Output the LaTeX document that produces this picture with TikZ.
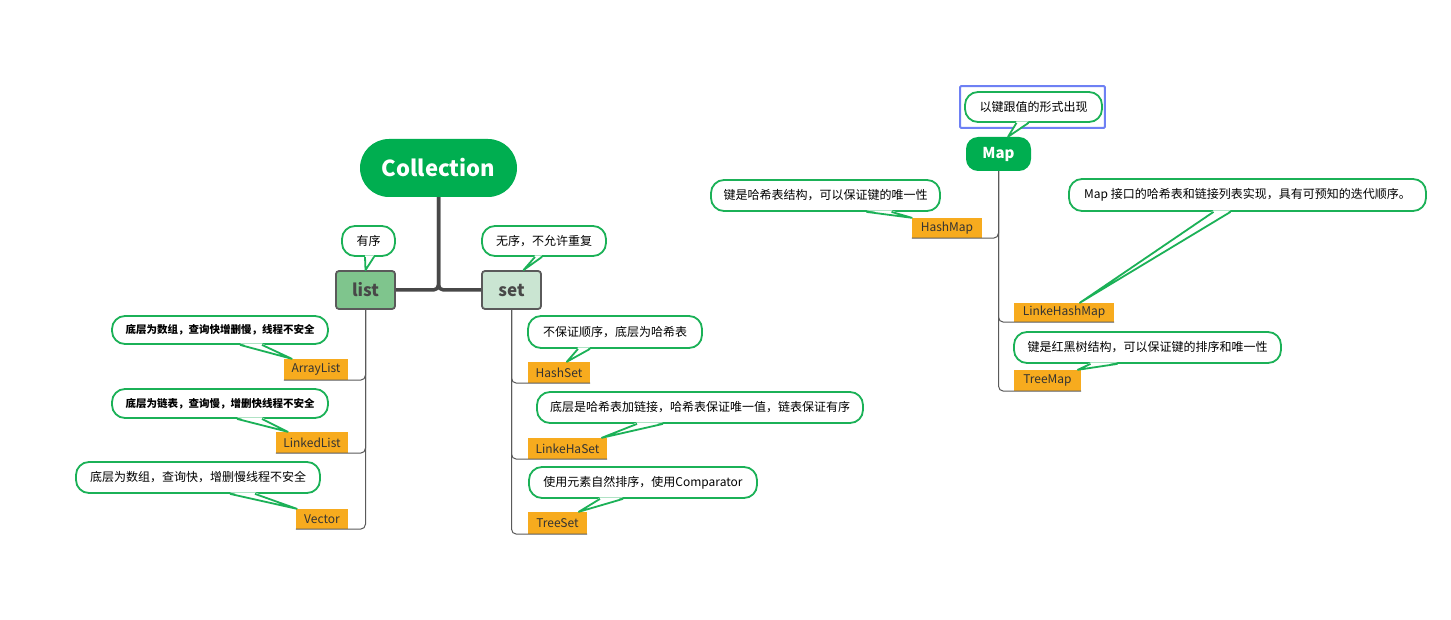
\documentclass[tikz,border=0pt]{standalone}
\usepackage{fontspec}
\setmainfont{Noto Sans CJK SC}
\definecolor{mmgreen}{HTML}{00AE50}
\definecolor{notegreen}{HTML}{1BB157}
\definecolor{tagorange}{HTML}{F7AB1E}
\definecolor{listfill}{HTML}{7FC58D}
\definecolor{setfill}{HTML}{CAE5D2}
\definecolor{linegray}{HTML}{484848}
\definecolor{selblue}{HTML}{6E80F4}
\begin{document}
\begin{tikzpicture}[x=1pt,y=-1pt,
  root/.style={fill=mmgreen,text=white,inner sep=0pt,font=\bfseries\fontsize{22}{26}\selectfont},
  kind/.style={draw=linegray!90,line width=1.8pt,rounded corners=3pt,inner sep=0pt,minimum width=59pt,minimum height=38pt,text=linegray,font=\bfseries\fontsize{17}{20}\selectfont},
  note/.style={draw=notegreen,line width=1.8pt,fill=white,rounded corners=13pt,inner sep=0pt,font=\fontsize{12}{14}\selectfont},
  tag/.style={fill=tagorange,inner sep=0pt,minimum height=21pt,text=black!80,font=\fontsize{12}{14}\selectfont},
  pointer/.style={draw=notegreen,line width=1.8pt,line join=round},
  trunk/.style={draw=linegray,line width=3.5pt,rounded corners=5pt},
  branch/.style={draw=linegray!90,line width=1pt,rounded corners=5pt}]
\useasboundingbox[fill=white] (0,0) rectangle (1451,620);

\node[root,rounded corners=29pt,minimum width=157pt,minimum height=58pt] (coll) at (438.5,168) {Collection};
\node[kind,fill=listfill] (list) at (365.5,290) {list};
\node[kind,fill=setfill] (set) at (511.5,290) {set};
\node[root,rounded corners=12pt,minimum width=65pt,minimum height=34pt,font=\bfseries\fontsize{15}{18}\selectfont] (map) at (998.5,154) {Map};

\node[tag,minimum width=64pt] (t3) at (316,369.5) {ArrayList};
\node[tag,minimum width=72pt] (t4) at (312,442.5) {LinkedList};
\node[tag,minimum width=52pt,minimum height=20pt] (t5) at (322,519) {Vector};
\node[tag,minimum width=62pt] (t6) at (559,372.5) {HashSet};
\node[tag,minimum width=79pt] (t7) at (567.5,448.5) {LinkeHaSet};
\node[tag,minimum width=59pt,minimum height=22pt] (t8) at (557.5,523) {TreeSet};
\node[tag,minimum width=70pt,minimum height=20pt] (t9) at (947,228) {HashMap};
\node[tag,minimum width=100pt,minimum height=19pt] (t10) at (1064,312.5) {LinkeHashMap};
\node[tag,minimum width=67pt] (t11) at (1047.5,380.5) {TreeMap};

\draw[trunk] (coll.south) |- (list.east);
\draw[trunk] (coll.south) |- (set.west);
\draw[branch] (list.south) |- (t3.south west);
\draw[branch] (list.south) |- (t4.south west);
\draw[branch] (list.south) |- (t5.south west);
\draw[branch] (set.south) |- (t6.south east);
\draw[branch] (set.south) |- (t7.south east);
\draw[branch] (set.south) |- (t8.south east);
\draw[branch] (map.south) |- (t9.south west);
\draw[branch] (map.south) |- (t10.south east);
\draw[branch] (map.south) |- (t11.south east);

\node[note,minimum width=53pt,minimum height=30pt] (n1) at (368.5,241) {有序};
\node[note,minimum width=124pt,minimum height=30pt] (n2) at (544,241) {无序，不允许重复};
\node[note,minimum width=216pt,minimum height=28pt,font=\bfseries\fontsize{10.5}{13}\selectfont] (n3) at (220,330) {底层为数组，查询快增删慢，线程不安全};
\node[note,minimum width=216pt,minimum height=29pt,font=\bfseries\fontsize{10.5}{13}\selectfont] (n4) at (220,403.5) {底层为链表，查询慢，增删快线程不安全};
\node[note,minimum width=244pt,minimum height=31pt] (n5) at (198,477.5) {底层为数组，查询快，增删慢线程不安全};
\node[note,minimum width=174pt,minimum height=32pt] (n6) at (615,332) {不保证顺序，底层为哈希表};
\node[note,minimum width=326pt,minimum height=31pt] (n7) at (700,407.5) {底层是哈希表加链接，哈希表保证唯一值，链表保证有序};
\node[note,minimum width=228pt,minimum height=31pt] (n8) at (643,482.5) {使用元素自然排序，使用Comparator};
\node[note,minimum width=229pt,minimum height=31pt] (n9) at (825.5,195.5) {键是哈希表结构，可以保证键的唯一性};
\node[note,minimum width=357pt,minimum height=32pt] (n10) at (1247.5,195) {Map 接口的哈希表和链接列表实现，具有可预知的迭代顺序。};
\node[note,minimum width=267pt,minimum height=31pt] (n11) at (1147.5,347.5) {键是红黑树结构，可以保证键的排序和唯一性};
\node[note,minimum width=137pt,minimum height=30pt] (n12) at (1033.5,107) {以键跟值的形式出现};
\draw[selblue,line width=2pt,rounded corners=1pt] ([shift={(-4pt,-5pt)}]n12.south west) rectangle ([shift={(2pt,5pt)}]n12.north east);

% callout pointers
\fill[white] ([xshift=-3.5,yshift=1.5]n1.south) -- (list.north) -- ([xshift=5.5,yshift=1.5]n1.south) -- cycle;
\draw[pointer] ([xshift=-3.5]n1.south) -- (list.north) -- ([xshift=5.5]n1.south);
\fill[white] ([xshift=-9,yshift=1.5]n2.south) -- ([xshift=12]set.north) -- ([xshift=-2,yshift=1.5]n2.south) -- cycle;
\draw[pointer] ([xshift=-9]n2.south) -- ([xshift=12]set.north) -- ([xshift=-2]n2.south);
\fill[white] ([xshift=20,yshift=1.5]n3.south) -- ([xshift=8]t3.north west) -- ([xshift=42,yshift=1.5]n3.south) -- cycle;
\draw[pointer] ([xshift=20]n3.south) -- ([xshift=8]t3.north west) -- ([xshift=42]n3.south);
\fill[white] ([xshift=17,yshift=1.5]n4.south) -- ([xshift=12]t4.north west) -- ([xshift=42,yshift=1.5]n4.south) -- cycle;
\draw[pointer] ([xshift=17]n4.south) -- ([xshift=12]t4.north west) -- ([xshift=42]n4.south);
\fill[white] ([xshift=32,yshift=1.5]n5.south) -- ([xshift=1]t5.north west) -- ([xshift=57,yshift=1.5]n5.south) -- cycle;
\draw[pointer] ([xshift=32]n5.south) -- ([xshift=1]t5.north west) -- ([xshift=57]n5.south);
\fill[white] ([xshift=-37,yshift=1.5]n6.south) -- ([xshift=39]t6.north west) -- ([xshift=-25,yshift=1.5]n6.south) -- cycle;
\draw[pointer] ([xshift=-37]n6.south) -- ([xshift=39]t6.north west) -- ([xshift=-25]n6.south);
\fill[white] ([xshift=-63,yshift=1.5]n7.south) -- ([xshift=74]t7.north west) -- ([xshift=-37,yshift=1.5]n7.south) -- cycle;
\draw[pointer] ([xshift=-63]n7.south) -- ([xshift=74]t7.north west) -- ([xshift=-37]n7.south);
\fill[white] ([xshift=-43,yshift=1.5]n8.south) -- ([xshift=51]t8.north west) -- ([xshift=-20,yshift=1.5]n8.south) -- cycle;
\draw[pointer] ([xshift=-43]n8.south) -- ([xshift=51]t8.north west) -- ([xshift=-20]n8.south);
\fill[white] ([xshift=41,yshift=1.5]n9.south) -- (t9.north west) -- ([xshift=66,yshift=1.5]n9.south) -- cycle;
\draw[pointer] ([xshift=41]n9.south) -- (t9.north west) -- ([xshift=66]n9.south);
\fill[white] ([xshift=-34,yshift=1.5]n10.south) -- ([xshift=66]t10.north west) -- ([xshift=-17,yshift=1.5]n10.south) -- cycle;
\draw[pointer] ([xshift=-34]n10.south) -- ([xshift=66]t10.north west) -- ([xshift=-17]n10.south);
\fill[white] ([xshift=-57,yshift=1.5]n11.south) -- ([xshift=64]t11.north west) -- ([xshift=-30,yshift=1.5]n11.south) -- cycle;
\draw[pointer] ([xshift=-57]n11.south) -- ([xshift=64]t11.north west) -- ([xshift=-30]n11.south);
\fill[white] ([xshift=-17,yshift=1.5]n12.south) -- ([xshift=9.5]map.north) -- ([xshift=-5,yshift=1.5]n12.south) -- cycle;
\draw[pointer] ([xshift=-17]n12.south) -- ([xshift=9.5]map.north) -- ([xshift=-5]n12.south);
\end{tikzpicture}
\end{document}
